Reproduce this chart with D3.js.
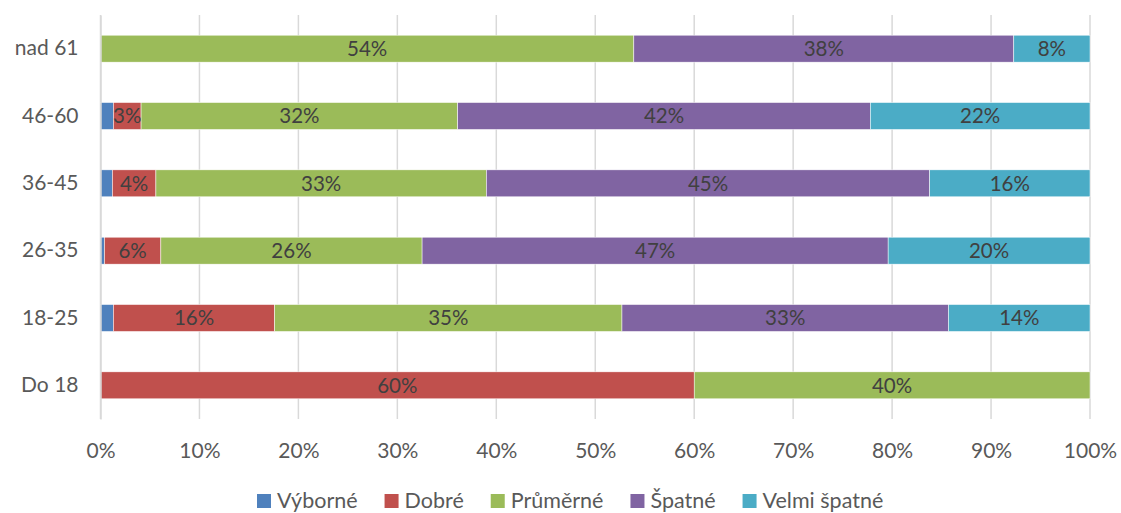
<!DOCTYPE html>
<meta charset="utf-8">
<style>
body { margin: 0; background: #fff; font-family: Lato, "Open Sans", sans-serif; }
.grid line { stroke: #d9d9d9; stroke-width: 1.5; }
.axis text { fill: #595959; font-family: Lato, sans-serif; font-size: 21px; }
.label { fill: #404040; font-size: 20.5px; text-anchor: middle; }
.legend text { fill: #595959; font-size: 21.5px; }
</style>
<body>
<div id="chart"></div>
<script src="https://d3js.org/d3.v7.min.js"></script>
<script>
// data, values in %
var categories = ["nad 61", "46-60", "36-45", "26-35", "18-25", "Do 18"];
var seriesNames = ["Výborné", "Dobré", "Průměrné", "Špatné", "Velmi špatné"];
var vyborne = [0, 1.3, 1.2, 0.4, 1.3, 0];
var dobre = [0, 2.8, 4.4, 5.7, 16.3, 60];
var prumerne = [53.9, 32.0, 33.4, 26.4, 35.1, 40];
var spatne = [38.4, 41.7, 44.8, 47.1, 33.0, 0];
var velmiSpatne = [7.7, 22.2, 16.2, 20.4, 14.3, 0];
var xTicks = [0, 10, 20, 30, 40, 50, 60, 70, 80, 90, 100];
var colors = ["#4f81bd", "#c0504d", "#9bbb59", "#8064a2", "#4bacc6"];

var width = 1121, height = 513,
    margin = {top: 15, right: 31, bottom: 94, left: 100.5};

var rows = categories.map(function(c, i) {
  return {cat: c, "Výborné": vyborne[i], "Dobré": dobre[i], "Průměrné": prumerne[i],
          "Špatné": spatne[i], "Velmi špatné": velmiSpatne[i]};
});
var stacked = d3.stack().keys(seriesNames)(rows);

var svg = d3.select("#chart").append("svg")
  .attr("width", width).attr("height", height);
var g = svg.append("g").attr("transform", `translate(${margin.left},${margin.top})`);
var iw = width - margin.left - margin.right,
    ih = height - margin.top - margin.bottom;

var x = d3.scaleLinear().domain([0, 100]).range([0, iw]);
var y = d3.scaleBand().domain(categories).range([0, ih]).paddingInner(0.6).paddingOuter(0.3);

// gridlines
g.append("g").attr("class", "grid")
  .selectAll("line").data(xTicks).enter().append("line")
  .attr("x1", d => x(d)).attr("x2", d => x(d))
  .attr("y1", 0).attr("y2", ih);

// bars
var layer = g.selectAll(".layer").data(stacked).enter().append("g")
  .attr("class", "layer").attr("fill", (d, i) => colors[i]);
layer.selectAll("rect").data(d => d).enter().append("rect")
  .attr("x", d => x(d[0]))
  .attr("y", d => y(d.data.cat))
  .attr("width", d => x(d[1]) - x(d[0]))
  .attr("height", y.bandwidth())
  .attr("stroke", "#fff").attr("stroke-width", 0.5);

// data labels (not for Výborné)
stacked.forEach(function(s, si) {
  if (si === 0) return;
  g.append("g").selectAll("text").data(s.filter(d => d[1] - d[0] > 0)).enter().append("text")
    .attr("class", "label")
    .attr("x", d => x((d[0] + d[1]) / 2))
    .attr("y", d => y(d.data.cat) + y.bandwidth() / 2)
    .attr("dy", "0.36em")
    .text(d => Math.round(d[1] - d[0]) + "%");
});

// axes
var xAxis = d3.axisBottom(x).tickValues(xTicks).tickSize(0).tickFormat(d => d + "%");
g.append("g").attr("class", "axis")
  .attr("transform", `translate(0,${ih})`)
  .call(xAxis)
  .call(a => a.select(".domain").remove())
  .selectAll("text").attr("y", 0).attr("dy", "1.85em");

var yAxis = d3.axisLeft(y).tickSize(0).tickPadding(22);
g.append("g").attr("class", "axis")
  .call(yAxis)
  .call(a => a.select(".domain").attr("stroke", "#d9d9d9").attr("stroke-width", 1.5));

// legend
var legend = svg.append("g").attr("class", "legend").attr("transform", "translate(0,500)");
var lx = 257;
seriesNames.forEach(function(n, i) {
  var lg = legend.append("g").attr("transform", `translate(${lx},0)`);
  lg.append("rect").attr("x", 0).attr("y", -6).attr("width", 14).attr("height", 14).attr("fill", colors[i]);
  var t = lg.append("text").attr("x", 20).attr("dy", "0.36em").text(n);
  lx += 20 + t.node().getComputedTextLength() + 27;
});
</script>
</body>
